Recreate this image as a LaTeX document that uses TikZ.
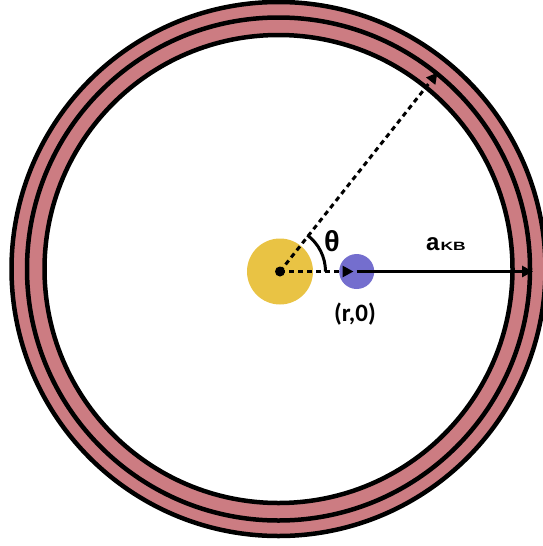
\documentclass[tikz,border=0pt]{standalone}
\usepackage{fontspec}
\usepackage{graphicx}
\setmainfont{Liberation Sans}
\newfontfamily\carl{Carlito}
\usetikzlibrary{arrows.meta}
\definecolor{ringpink}{RGB}{204,124,130}
\definecolor{sunyellow}{RGB}{233,195,68}
\definecolor{planetblue}{RGB}{116,110,206}
\begin{document}
\begin{tikzpicture}[x=1pt,y=-1pt,
  ring/.style={line width=4.5pt},
  dashline/.style={line width=3pt, dash pattern=on 5pt off 4pt},
  tipped/.style={-{Triangle[length=11pt,width=11pt]}}]
\useasboundingbox (0,0) rectangle (543,546);
\coordinate (o) at (278.5,269);
\fill[ringpink, even odd rule] (o) circle[radius=267] (o) circle[radius=234];
\draw[ring] (o) circle[radius=267];
\draw[ring] (o) circle[radius=251.5];
\draw[ring] (o) circle[radius=234];
\coordinate (c) at (280,271.5);
\coordinate (p) at (356.7,271.5);
\coordinate (ptip) at (353.5,271.5);
\coordinate (atip) at (533,271.5);
\coordinate (dtip) at (437.5,72.5);
\fill[sunyellow] (c) circle[radius=33];
\fill[planetblue] (p) circle[radius=17.5];
\draw[dashline, tipped] (c) -- (ptip);
\draw[line width=3.5pt, tipped] (p) -- (atip);
\draw[dashline, tipped] (c) -- (dtip);
\draw[line width=3pt] ([shift={(45.5,0)}]c) arc[start angle=0, end angle=-53, radius=45.5];
\fill (c) circle[radius=5];
\node (theta) [anchor=base west, inner sep=0, font=\bfseries\fontsize{29}{29}\selectfont] at (324,251.7) {θ};
\node (akb) [anchor=base west, inner sep=0] at (426,250) {\fontsize{24}{24}\selectfont\bfseries a\kern1pt\fontsize{12}{12}\selectfont\scalebox{1.45}[1]{KB}};
\node (rlab) [anchor=base, inner sep=0, font=\carl\bfseries\fontsize{25}{25}\selectfont] at (355,321.5) {(r,0)};
\end{tikzpicture}
\end{document}
